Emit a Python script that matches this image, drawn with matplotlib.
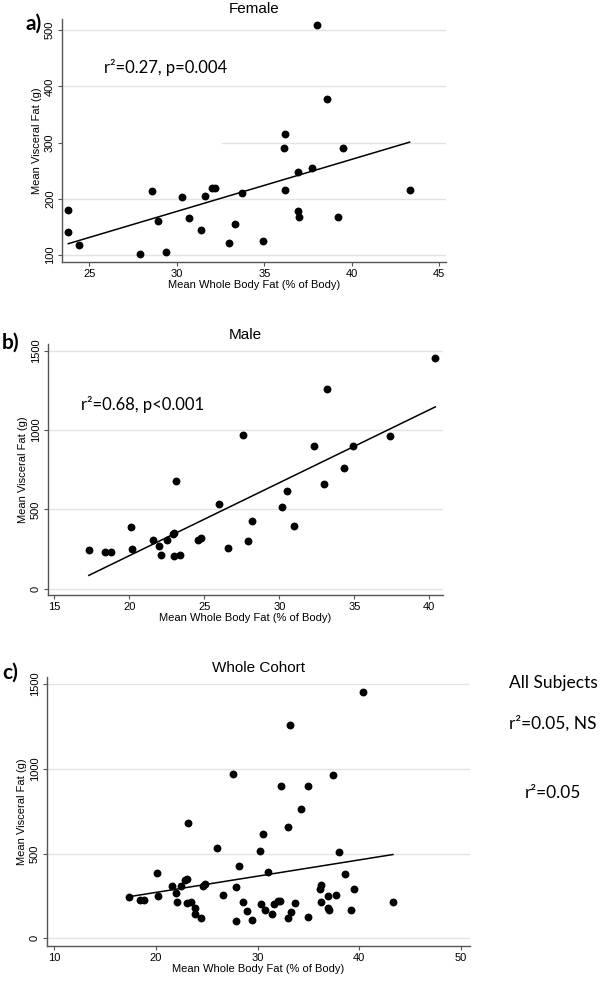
import numpy as np
import matplotlib
matplotlib.use("Agg")
import matplotlib.pyplot as plt

plt.rcParams['font.family'] = ['Liberation Sans', 'DejaVu Sans']

# ---------------- data ----------------
female_fat = [23.8, 23.8, 24.4, 27.9, 28.6, 28.9, 29.4, 30.3, 30.7, 31.4, 31.6, 32.0, 32.2,
              33.0, 33.3, 33.7, 34.9, 36.1, 36.2, 36.2, 36.9, 36.9, 37.0, 37.7, 38.0, 38.6,
              39.2, 39.5, 43.3]
female_vf = [181, 141, 119, 102, 215, 161, 106, 204, 166, 145, 205, 219, 219,
             122, 156, 210, 125, 291, 316, 216, 248, 178, 168, 255, 509, 377,
             168, 290, 216]

male_fat = [17.3, 18.4, 18.8, 20.1, 20.2, 21.6, 22.0, 22.1, 22.5, 22.9, 23.0, 23.1, 23.0,
            23.4, 24.6, 24.8, 26.0, 26.6, 27.6, 27.9, 28.2, 30.2, 30.5, 31.0, 33.0, 32.3,
            33.2, 34.3, 34.9, 37.4, 40.4]
male_vf = [244, 229, 229, 387, 248, 307, 269, 214, 307, 343, 349, 679, 208,
           214, 307, 318, 534, 254, 971, 302, 429, 517, 618, 393, 658, 901,
           1258, 763, 901, 964, 1452]

all_fat = female_fat + male_fat
all_vf = female_vf + male_vf

# fitted lines (slope, intercept)
fit_female = (9.25, -99.6)
fit_male = (45.98, -711.9)
fit_all = (9.58, 79.4)

titles = ["Female", "Male", "Whole Cohort"]
panel_labels = ["a)", "b)", "c)"]
annotations = ["r\u00b2=0.27, p=0.004", "r\u00b2=0.68, p<0.001", None]
xticks = [[25, 30, 35, 40, 45], [15, 20, 25, 30, 35, 40], [10, 20, 30, 40, 50]]
yticks = [[100, 200, 300, 400, 500], [0, 500, 1000, 1500], [0, 500, 1000, 1500]]
side_texts = ["All Subjects", "r\u00b2=0.05, NS", "r\u00b2=0.05"]

xlabel = "Mean Whole Body Fat (% of Body)"
ylabel = "Mean Visceral Fat (g)"

# ---------------- figure ----------------
W, H = 600, 981
fig = plt.figure(figsize=(W / 100, H / 100), dpi=100)

def px_axes(l, t, r, b):
    return fig.add_axes([l / W, 1 - b / H, (r - l) / W, (b - t) / H])

axes = [px_axes(62, 19, 446, 262), px_axes(47.7, 344.3, 442.7, 595), px_axes(47, 677.3, 470, 946)]
xlims = [(23.44, 45.38), (14.56, 40.89), (9.28, 50.88)]
ylims = [(88, 519.7), (-40, 1540), (-45, 1539)]
datasets = [(female_fat, female_vf, fit_female), (male_fat, male_vf, fit_male), (all_fat, all_vf, fit_all)]

grid_col = '#e3e3e3'
spine_col = '#555555'
calibri = ['Lato', 'DejaVu Sans']

for i, ax in enumerate(axes):
    xs, ys, (m, c) = datasets[i]
    ax.set_xlim(*xlims[i])
    ax.set_ylim(*ylims[i])
    for yt in yticks[i]:
        xmin = 0.0
        if i == 0 and yt == 300:
            xmin = 0.417
        ax.axhline(yt, xmin=xmin, xmax=1, color=grid_col, lw=1.0, zorder=0)
    ax.scatter(xs, ys, s=32, color='black', zorder=3, linewidths=0)
    xl = np.array([min(xs), max(xs)])
    ax.plot(xl, m * xl + c, color='black', lw=1.1, zorder=2)

    ax.set_xticks(xticks[i])
    ax.set_yticks(yticks[i])
    ax.set_yticklabels([str(v) for v in yticks[i]], rotation=90, va='center')
    ax.tick_params(axis='both', labelsize=8, color=spine_col, length=3, width=0.8, pad=2)
    for s in ['top', 'right']:
        ax.spines[s].set_visible(False)
    for s in ['left', 'bottom']:
        ax.spines[s].set_color(spine_col)
        ax.spines[s].set_linewidth(1.0)

    ax.set_xlabel(xlabel, fontsize=8, labelpad=1)
    ax.set_ylabel(ylabel, fontsize=8, labelpad=2)
    ax.set_title(titles[i], fontsize=11, pad=4)

    if annotations[i]:
        ax.text(0.11 if i == 0 else 0.085, 0.80 if i == 0 else 0.76, annotations[i],
                transform=ax.transAxes, fontsize=12, family=calibri, va='center', ha='left')

fig.text(26 / W, 1 - 24 / H, panel_labels[0], fontsize=15, fontweight='bold', family=calibri, va='center', ha='left')
fig.text(2 / W, 1 - 343 / H, panel_labels[1], fontsize=15, fontweight='bold', family=calibri, va='center', ha='left')
fig.text(2 / W, 1 - 673 / H, panel_labels[2], fontsize=15, fontweight='bold', family=calibri, va='center', ha='left')

for t, y in zip(side_texts, [683, 723, 793]):
    fig.text(553 / W, 1 - y / H, t, fontsize=12.5, family=calibri, va='center', ha='center')

fig.savefig("out.png", dpi=100)
